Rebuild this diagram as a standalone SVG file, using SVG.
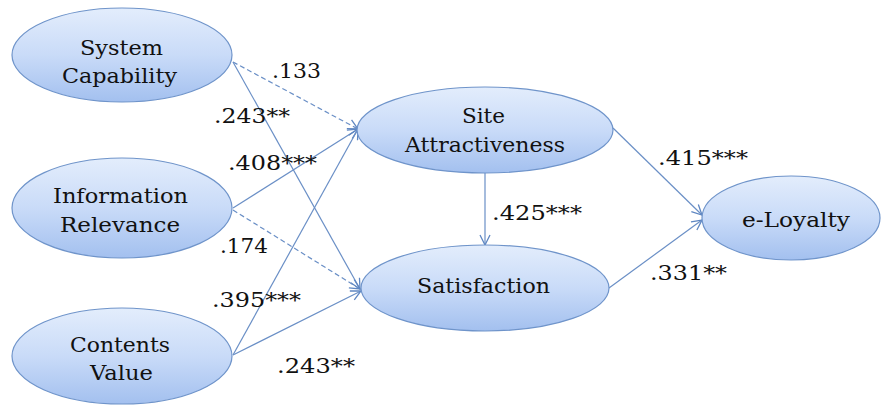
<svg xmlns="http://www.w3.org/2000/svg" width="882" height="405" viewBox="0 0 882 405">
<defs>
<linearGradient id="g" x1="0" y1="0" x2="0" y2="1">
<stop offset="0" stop-color="#e3edfc"/>
<stop offset="0.5" stop-color="#c9dbf8"/>
<stop offset="1" stop-color="#a3c0ef"/>
</linearGradient>
<marker id="a" markerWidth="12" markerHeight="12" viewBox="0 0 12 12" refX="11" refY="6" orient="auto" markerUnits="userSpaceOnUse">
<path d="M1,1 L11,6 L1,11" fill="none" stroke="#5f87c2" stroke-width="1.3"/>
</marker>
</defs>
<style>
.n{fill:url(#g);stroke:#6f94ca;stroke-width:1.2}
text{font-family:'DejaVu Serif','Liberation Serif',serif;font-size:20.5px;fill:#111}
.c{stroke:#6a8fc6;stroke-width:1.2;fill:none;marker-end:url(#a)}
.d{stroke-dasharray:5,3}
</style>
<rect width="882" height="405" fill="#fff"/>
<g id="connectors">
<line class="c d" x1="233" y1="62" x2="358" y2="129"/>
<line class="c" x1="233" y1="62" x2="360" y2="289"/>
<line class="c" x1="233" y1="208" x2="358" y2="129"/>
<line class="c d" x1="233" y1="210" x2="360" y2="289"/>
<line class="c" x1="233" y1="355" x2="358" y2="129"/>
<line class="c" x1="233" y1="355" x2="361" y2="291"/>
<line class="c" x1="485" y1="173" x2="485" y2="245"/>
<line class="c" x1="613" y1="128" x2="702" y2="215"/>
<line class="c" x1="609" y1="288" x2="702" y2="220"/>
</g>
<g id="labels">
<text x="272" y="78" textLength="49" lengthAdjust="spacingAndGlyphs">.133</text>
<text x="214" y="123" textLength="76" lengthAdjust="spacingAndGlyphs">.243**</text>
<text x="228" y="170" textLength="89" lengthAdjust="spacingAndGlyphs">.408***</text>
<text x="220" y="253" textLength="48" lengthAdjust="spacingAndGlyphs">.174</text>
<text x="212" y="307" textLength="89" lengthAdjust="spacingAndGlyphs">.395***</text>
<text x="277" y="373" textLength="78" lengthAdjust="spacingAndGlyphs">.243**</text>
<text x="492" y="220" textLength="90" lengthAdjust="spacingAndGlyphs">.425***</text>
<text x="658" y="165" textLength="90" lengthAdjust="spacingAndGlyphs">.415***</text>
<text x="650" y="280" textLength="77" lengthAdjust="spacingAndGlyphs">.331**</text>
</g>
<g id="system-capability">
<ellipse class="n" cx="122" cy="55" rx="110" ry="47"/>
<text x="80" y="55" textLength="83" lengthAdjust="spacingAndGlyphs">System</text>
<text x="62" y="83" textLength="115" lengthAdjust="spacingAndGlyphs">Capability</text>
</g>
<g id="information-relevance">
<ellipse class="n" cx="122" cy="208" rx="110" ry="50"/>
<text x="53" y="203" textLength="135" lengthAdjust="spacingAndGlyphs">Information</text>
<text x="60" y="232" textLength="120" lengthAdjust="spacingAndGlyphs">Relevance</text>
</g>
<g id="contents-value">
<ellipse class="n" cx="122" cy="356" rx="110" ry="48"/>
<text x="70" y="352" textLength="100" lengthAdjust="spacingAndGlyphs">Contents</text>
<text x="90" y="380" textLength="63" lengthAdjust="spacingAndGlyphs">Value</text>
</g>
<g id="site-attractiveness">
<ellipse class="n" cx="485" cy="130" rx="128" ry="43"/>
<text x="462" y="123" textLength="43" lengthAdjust="spacingAndGlyphs">Site</text>
<text x="405" y="152" textLength="160" lengthAdjust="spacingAndGlyphs">Attractiveness</text>
</g>
<g id="satisfaction">
<ellipse class="n" cx="485" cy="288" rx="124" ry="43"/>
<text x="417" y="293" textLength="133" lengthAdjust="spacingAndGlyphs">Satisfaction</text>
</g>
<g id="e-loyalty">
<ellipse class="n" cx="791" cy="218" rx="89" ry="42"/>
<text x="742" y="227" textLength="108" lengthAdjust="spacingAndGlyphs">e-Loyalty</text>
</g>
</svg>
